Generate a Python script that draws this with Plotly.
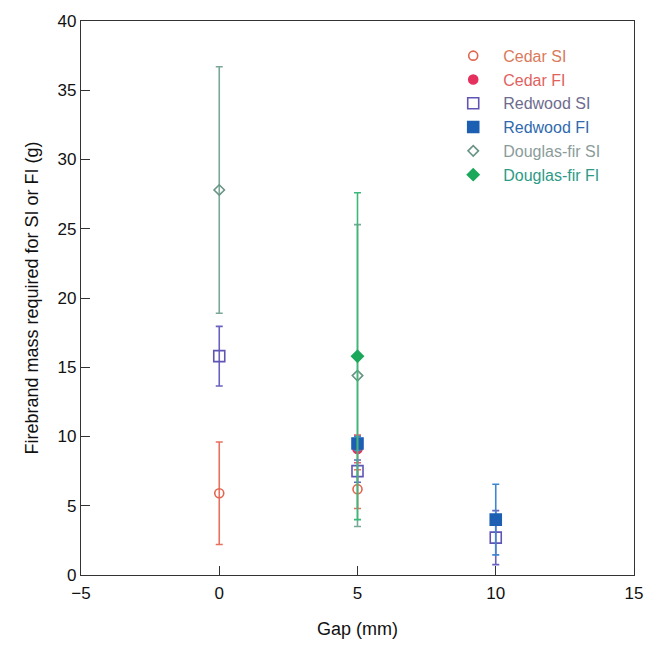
import plotly.graph_objects as go

# Firebrand mass (g) needed for smouldering (SI) / flaming (FI) ignition vs. gap width
cedar_si_gap = [0, 5]
cedar_si_mass = [5.9, 6.2]
cedar_si_err = [3.7, 1.4]

cedar_fi_gap = [5]
cedar_fi_mass = [9.1]
cedar_fi_err = [1.0]

redwood_si_gap = [0, 5, 10]
redwood_si_mass = [15.8, 7.5, 2.7]
redwood_si_err = [2.15, 0.8, 1.95]

redwood_fi_gap = [5, 10]
redwood_fi_mass = [9.5, 4.0]
redwood_fi_err = [0.5, 2.55]

dfir_si_gap = [0, 5]
dfir_si_mass = [27.8, 14.4]
dfir_si_err = [8.9, 10.9]

dfir_fi_gap = [5]
dfir_fi_mass = [15.8]
dfir_fi_err = [11.8]

x_ticks = [-5, 0, 5, 10, 15]
y_ticks = [0, 5, 10, 15, 20, 25, 30, 35, 40]

series = [
    # name, label colour, x, y, err, symbol, marker colour, error colour, size
    ("Cedar SI", "#D97A5C", cedar_si_gap, cedar_si_mass, cedar_si_err,
     "circle-open", "#E2664E", "#E8705E", 9),
    ("Cedar FI", "#E0625E", cedar_fi_gap, cedar_fi_mass, cedar_fi_err,
     "circle", "#E5305E", "#EE5A6E", 9),
    ("Redwood SI", "#6E6C8E", redwood_si_gap, redwood_si_mass, redwood_si_err,
     "square-open", "#5F55B5", "#6A62C0", 11),
    ("Redwood FI", "#2F6AAE", redwood_fi_gap, redwood_fi_mass, redwood_fi_err,
     "square", "#1D5FB2", "#3E86D0", 11),
    ("Douglas-fir SI", "#8A9C9A", dfir_si_gap, dfir_si_mass, dfir_si_err,
     "diamond-open", "#6A9484", "#7AA898", 8),
    ("Douglas-fir FI", "#2E9A88", dfir_fi_gap, dfir_fi_mass, dfir_fi_err,
     "diamond", "#1BA85A", "#3CB878", 9),
]

fig = go.Figure()
for name, tcol, xs, ys, es, sym, mcol, ecol, size in series:
    fig.add_trace(go.Scatter(
        x=xs, y=ys, mode="markers",
        name=f"<span style='color:{tcol}'>{name}</span>",
        marker=dict(symbol=sym, color=mcol, size=size,
                    line=dict(color=mcol, width=1.6)),
        error_y=dict(type="data", array=es, visible=True,
                     color=ecol, thickness=1.6, width=3.5),
    ))

FONT = "Liberation Sans, Arial, sans-serif"

fig.update_layout(
    width=656, height=647,
    margin=dict(l=81, r=22, t=19, b=72),
    paper_bgcolor="white", plot_bgcolor="white",
    font=dict(family=FONT, size=17, color="#111111"),
    showlegend=True,
    legend=dict(x=0.655, y=0.968, xanchor="left", yanchor="top",
                bgcolor="rgba(0,0,0,0)", borderwidth=0,
                font=dict(family=FONT, size=16),
                itemwidth=50, tracegroupgap=0),
    xaxis=dict(
        range=[-5, 15], tickvals=x_ticks,
        ticktext=["\u22125", "0", "5", "10", "15"],
        showgrid=False, zeroline=False,
        showline=True, linecolor="#333333", linewidth=1.3, mirror=True,
        ticks="inside", ticklen=9, tickcolor="#333333", tickwidth=1.3,
        ticklabelstandoff=2,
        title=dict(text="Gap (mm)", standoff=20,
                   font=dict(family=FONT, size=18)),
    ),
    yaxis=dict(
        range=[0, 40], tickvals=y_ticks,
        showgrid=False, zeroline=False,
        showline=True, linecolor="#333333", linewidth=1.3, mirror=True,
        ticks="inside", ticklen=9, tickcolor="#333333", tickwidth=1.3,
        title=dict(text="Firebrand mass required for SI or FI (g)", standoff=14,
                   font=dict(family=FONT, size=18)),
    ),
)

fig.write_html("out.html")
